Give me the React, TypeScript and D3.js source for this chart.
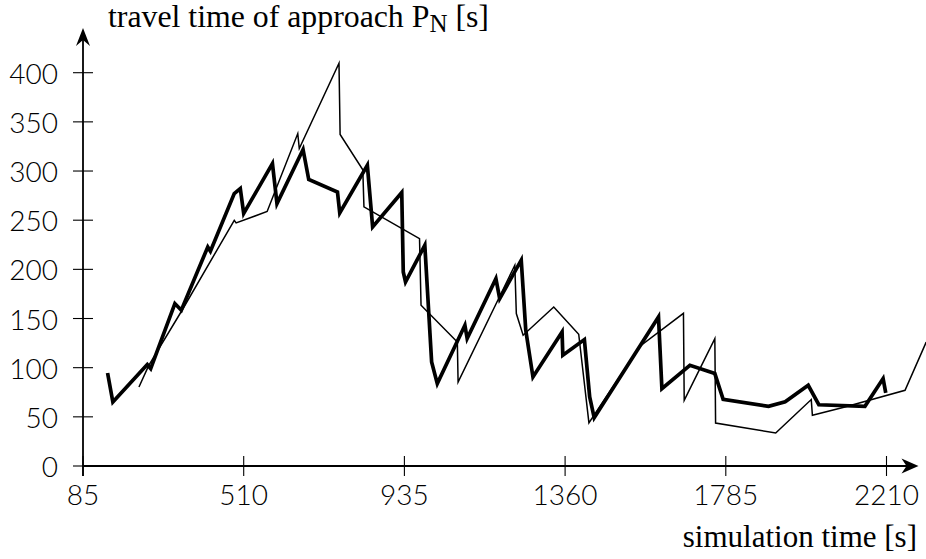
import React from "react";
import * as d3 from "d3";

// thick series: [simulation time, travel time]
const timesA = [150,164,255,264,328,345,415,422,485,501,510,586,598,667,682,758,764,837,851,928,932,938,989,1007,1022,1095,1101,1177,1187,1244,1256,1275,1352,1354,1411,1425,1437,1607,1616,1690,1756,1778,1898,1942,2003,2031,2153,2201,2208];
const valuesA = [94.6,65.1,103.2,99.1,165.2,158.4,222.8,218.4,277.1,282.2,256.8,307.6,266.9,321.9,291.4,278.7,257.4,305.9,243.1,278.1,197.4,187.2,224.5,105.8,83.8,143.1,129.6,190.6,170.3,209.3,138,90.5,136.3,112.6,128.6,70.2,49,151.6,78.7,102.4,94,67.9,60.7,65.3,82.1,62.3,60.7,88.9,74.3];

// thin series
const timesB = [233,259,347,485,490,572,653,657,762,765,825,828,975,979,1075,1077,1227,1231,1249,1330,1396,1423,1558,1673,1675,1756,1758,1917,2011,2014,2100,2259,2315];
const valuesB = [80.4,102.4,158.4,249.9,247.2,258.8,338.1,322.9,409.7,337.2,301.3,263.6,231.3,163.5,126.1,85.4,204.2,155,133,161.7,134,43.9,121.8,155.3,66.8,129.6,43.7,33.6,67.6,51.6,60,77,126];

const xTicks = [85, 510, 935, 1360, 1785, 2210];
const yTicks = [0, 50, 100, 150, 200, 250, 300, 350, 400];

const W = 926;
const H = 559;

export default function App() {
  const x = d3.scaleLinear().domain([85, 2210]).range([83, 886.5]);
  const y = d3.scaleLinear().domain([0, 400]).range([466, 72.7]);
  const line = d3
    .line<[number, number]>()
    .x((d) => x(d[0]))
    .y((d) => y(d[1]));
  const dataA = timesA.map((t, i) => [t, valuesA[i]] as [number, number]);
  const dataB = timesB.map((t, i) => [t, valuesB[i]] as [number, number]);

  const x0 = x(85);
  const y0 = y(0);
  const xEnd = 918.5;
  const yEnd = 28;
  const numFont = "Lato, 'Open Sans', sans-serif";
  const txtFont = "'Liberation Serif', 'Times New Roman', serif";

  return (
    <svg
      width={W}
      height={H}
      style={{ position: "absolute", left: 0, top: 0, background: "#fff" }}
    >
      <defs>
        <clipPath id="plotclip">
          <rect x={0} y={0} width={W} height={H} />
        </clipPath>
      </defs>
      {/* data lines */}
      <g clipPath="url(#plotclip)" fill="none" stroke="#000" strokeLinejoin="miter" strokeMiterlimit={10}>
        <path d={line(dataB) ?? ""} strokeWidth={1.5} />
        <path d={line(dataA) ?? ""} strokeWidth={3.7} />
      </g>
      {/* axes */}
      <g stroke="#000">
        <line x1={x0} y1={y0} x2={xEnd - 8} y2={y0} strokeWidth={1.8} />
        <line x1={x0} y1={y0 + 10} x2={x0} y2={yEnd + 8} strokeWidth={1.8} />
      </g>
      <path
        d={`M${xEnd},${y0} L${xEnd - 17},${y0 - 7.5} L${xEnd - 12},${y0} L${xEnd - 17},${y0 + 7.5} Z`}
        fill="#000"
      />
      <path
        d={`M${x0},${yEnd} L${x0 - 7},${yEnd + 18} L${x0},${yEnd + 12} L${x0 + 7},${yEnd + 18} Z`}
        fill="#000"
      />
      {/* x ticks */}
      <g>
        {xTicks.map((t) => (
          <g key={t}>
            <line x1={x(t)} x2={x(t)} y1={y0 - 10} y2={y0 + 10} stroke="#000" strokeWidth={1.1} />
            <text
              x={x(t)}
              y={505}
              textAnchor="middle"
              fontFamily={numFont}
              fontWeight={300}
              fontSize={28}
              fill="#000"
            >
              {t}
            </text>
          </g>
        ))}
      </g>
      {/* y ticks */}
      <g>
        {yTicks.map((t) => (
          <g key={t}>
            <line
              x1={x0 - 10}
              x2={t === 0 ? x0 : x0 + 10}
              y1={y(t)}
              y2={y(t)}
              stroke="#000"
              strokeWidth={1.1}
            />
            <text
              x={58}
              y={y(t)}
              textAnchor="end"
              dominantBaseline="central"
              fontFamily={numFont}
              fontWeight={300}
              fontSize={28}
              fill="#000"
            >
              {t}
            </text>
          </g>
        ))}
      </g>
      {/* axis titles */}
      <text x={108} y={26.5} fontFamily={txtFont} fontSize={31.8} fill="#000">
        travel time of approach P
        <tspan fontSize={25} dy={5}>N</tspan>
        <tspan dy={-5}> [s]</tspan>
      </text>
      <text x={917} y={547} textAnchor="end" fontFamily={txtFont} fontSize={31} fill="#000">
        simulation time [s]
      </text>
    </svg>
  );
}
